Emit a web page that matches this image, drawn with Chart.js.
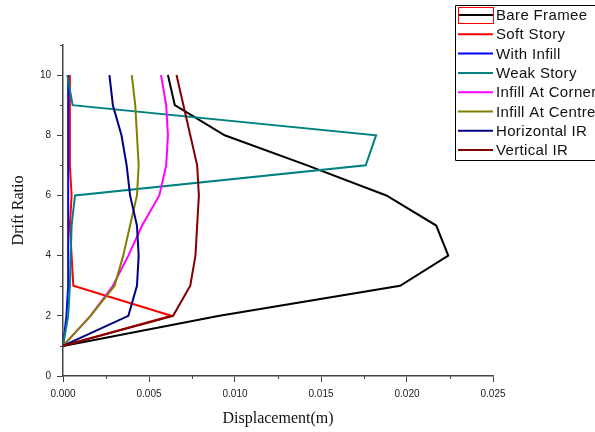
<!DOCTYPE html>
<html>
<head>
<meta charset="utf-8">
<script src="https://cdn.jsdelivr.net/npm/chart.js@4.4.0/dist/chart.umd.min.js"></script>
<style>
  html, body { margin: 0; padding: 0; background: #fff; overflow: hidden; }
  #wrap { width: 595px; height: 432px; position: relative; }
</style>
</head>
<body>
<div id="wrap"><canvas id="chart" width="595" height="432"></canvas></div>
<script>
// story levels (y axis)
const storyLevels = [1, 2, 3, 4, 5, 6, 7, 8, 9, 10];

// displacement (m) per story
const bareFramee = [0, 0.0091, 0.0196, 0.0224, 0.0217, 0.0188, 0.0142, 0.0094, 0.0065, 0.0061];
const softStory = [0, 0.0063, 0.0006, 0.0005, 0.0004, 0.0005, 0.0004, 0.0004, 0.0004, 0.0004];
const withInfill = [0, 0.0002, 0.0003, 0.0003, 0.0003, 0.0003, 0.0003, 0.0003, 0.0003, 0.0003];
const weakStory = [0, 0.0003, 0.0004, 0.00045, 0.0005, 0.0007, 0.0176, 0.0182, 0.00056, 0.00025];
const infillAtCorner = [0, 0.0016, 0.0029, 0.0038, 0.0046, 0.0056, 0.0060, 0.0061, 0.0060, 0.0057];
const infillAtCentre = [0, 0.0016, 0.0030, 0.0035, 0.0039, 0.0043, 0.0044, 0.0043, 0.0042, 0.0040];
const horizontalIR = [0, 0.0038, 0.0043, 0.0044, 0.0043, 0.0039, 0.0037, 0.0034, 0.0029, 0.0027];
const verticalIR = [0, 0.0064, 0.0074, 0.0077, 0.0078, 0.0079, 0.0078, 0.0074, 0.0070, 0.0066];

const seriesLabels = [
  "Bare Framee",
  "Soft Story",
  "With Infill",
  "Weak Story",
  "Infill At Corner",
  "Infill At Centre",
  "Horizontal IR",
  "Vertical IR",
];
const seriesValues = [
  bareFramee, softStory, withInfill, weakStory,
  infillAtCorner, infillAtCentre, horizontalIR, verticalIR,
];
const seriesColors = [
  "#000000", "#ff0000", "#0000ff", "#008080",
  "#ff00ff", "#808000", "#000080", "#800000",
];

const sansFont = "'Liberation Sans', Arial, sans-serif";
const serifFont = "'Liberation Serif', 'Times New Roman', serif";
const axisColor = "#444";

const isMajorX = (v) => Math.round(v / 0.0025) % 2 === 0;
const isMajorY = (v) => Math.round(v) % 2 === 0;

// short minor ticks (the library only draws one tick length)
const minorTicks = {
  id: "minorTicks",
  afterDraw(chart) {
    const ctx = chart.ctx;
    const { x, y } = chart.scales;
    ctx.save();
    ctx.strokeStyle = axisColor;
    ctx.lineWidth = 1;
    ctx.beginPath();
    x.ticks.forEach((t) => {
      if (isMajorX(t.value)) return;
      const px = Math.round(x.getPixelForValue(t.value)) + 0.5;
      ctx.moveTo(px, x.top);
      ctx.lineTo(px, x.top + 3);
    });
    y.ticks.forEach((t) => {
      if (isMajorY(t.value)) return;
      const py = Math.round(y.getPixelForValue(t.value)) + 0.5;
      ctx.moveTo(y.right, py);
      ctx.lineTo(y.right - 3, py);
    });
    ctx.stroke();
    ctx.restore();
  },
};

// legend drawn as a boxed list in the top right, cut off by the right edge
const boxLegend = {
  id: "boxLegend",
  afterDraw(chart) {
    const ctx = chart.ctx;
    const left = 455.5, top = 5.5, bottom = 160.5, rowH = 19.3;
    ctx.save();
    ctx.fillStyle = "#fff";
    ctx.fillRect(left, top, 200, bottom - top);
    ctx.strokeStyle = "#000";
    ctx.lineWidth = 1;
    ctx.beginPath();
    ctx.moveTo(700, top);
    ctx.lineTo(left, top);
    ctx.lineTo(left, bottom);
    ctx.lineTo(700, bottom);
    ctx.stroke();
    ctx.font = "15px " + sansFont;
    ctx.letterSpacing = "0.35px";
    ctx.textBaseline = "middle";
    chart.data.datasets.forEach((ds, i) => {
      const y = 15 + i * rowH;
      ctx.strokeStyle = ds.borderColor;
      ctx.lineWidth = 2;
      ctx.beginPath();
      ctx.moveTo(458, y);
      ctx.lineTo(493, y);
      ctx.stroke();
      if (i === 0) {
        ctx.strokeStyle = "#ff0000";
        ctx.lineWidth = 1;
        ctx.strokeRect(458.5, y - 7.5, 35, 16);
      }
      ctx.fillStyle = "#111";
      ctx.fillText(ds.label, 496, y + 1);
    });
    ctx.restore();
  },
};

const datasets = seriesLabels.map((label, i) => ({
  label,
  data: storyLevels.map((story, j) => ({ x: seriesValues[i][j], y: story })),
  borderColor: seriesColors[i],
  backgroundColor: seriesColors[i],
  borderWidth: 2,
  pointRadius: 0,
  showLine: true,
  tension: 0,
  order: seriesLabels.length - i, // later series on top
}));

new Chart(document.getElementById("chart").getContext("2d"), {
  type: "scatter",
  data: { datasets },
  options: {
    responsive: false,
    animation: false,
    layout: { padding: { top: 45, right: 102, left: 0, bottom: 0 } },
    plugins: {
      legend: { display: false },
      tooltip: { enabled: false },
    },
    scales: {
      x: {
        type: "linear",
        min: 0,
        max: 0.025,
        afterFit: (scale) => { scale.height = 56; },
        border: { display: true, color: axisColor, width: 1.5 },
        grid: {
          drawOnChartArea: false,
          drawTicks: true,
          tickLength: 6,
          color: axisColor,
          tickColor: (c) => (c.tick && isMajorX(c.tick.value) ? axisColor : "rgba(0,0,0,0)"),
        },
        ticks: {
          stepSize: 0.0025,
          autoSkip: false,
          maxRotation: 0,
          padding: 6,
          color: "#222",
          font: { family: sansFont, size: 10 },
          callback: (v) => (isMajorX(v) ? v.toFixed(3) : ""),
        },
        title: {
          display: true,
          text: "Displacement(m)",
          color: "#111",
          font: { family: serifFont, size: 16 },
          padding: { top: 4, bottom: 4 },
        },
      },
      y: {
        type: "linear",
        min: 0,
        max: 11,
        afterFit: (scale) => { scale.width = 63; },
        border: { display: true, color: axisColor, width: 1.5 },
        grid: {
          drawOnChartArea: false,
          drawTicks: true,
          tickLength: 6,
          color: axisColor,
          tickColor: (c) => (c.tick && isMajorY(c.tick.value) ? axisColor : "rgba(0,0,0,0)"),
        },
        ticks: {
          stepSize: 1,
          autoSkip: false,
          padding: 6,
          color: "#222",
          font: { family: sansFont, size: 10 },
          callback: (v) => (isMajorY(v) ? v : ""),
        },
        title: {
          display: true,
          text: "Drift Ratio",
          color: "#111",
          font: { family: serifFont, size: 16 },
          padding: { top: 9, bottom: 4 },
        },
      },
    },
  },
  plugins: [minorTicks, boxLegend],
});
</script>
</body>
</html>
